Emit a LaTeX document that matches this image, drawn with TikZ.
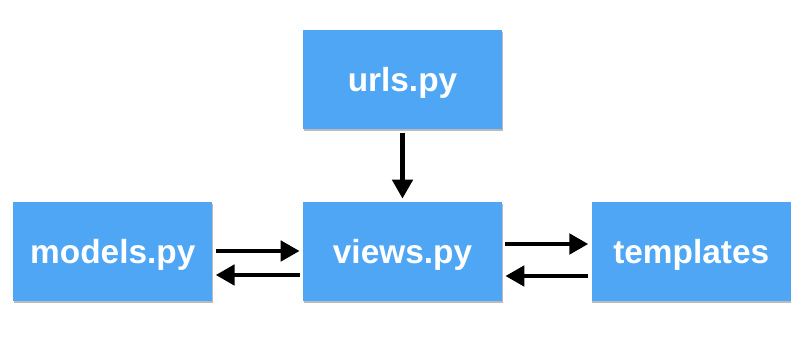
\documentclass[tikz,border=0pt]{standalone}
\usepackage{fontspec}
\setmainfont{Liberation Sans}
\usepackage{tikz}
\usetikzlibrary{positioning,arrows.meta,shadows}
\definecolor{boxblue}{HTML}{4EA6F5}

\begin{document}
\begin{tikzpicture}[
  font=\fontsize{19}{19}\selectfont\bfseries,
  file/.style={draw=none,fill=boxblue,text=white,minimum width=3.98cm,minimum height=1.98cm,
    text height=13.6pt,text depth=0pt,
    drop shadow={shadow xshift=0.4pt,shadow yshift=-1.1pt,opacity=0.45,fill=black!60}},
  flow/.style={line width=2.8pt,-{Triangle[length=0.38cm,width=0.4cm]},shorten <=0.06cm,shorten >=0.06cm},
]
\useasboundingbox (0,0) rectangle (16.1,6.78);

\node[file] (views) at (8.05,1.75) {views.py};
\node[file,above=1.44cm of views] (urls) {urls.py};
\node[file,left=1.8cm of views] (models) {models.py};
\node[file,right=1.78cm of views] (templates) {templates};

% request comes in through the url conf
\draw[flow] (urls.south) -- (views.north);
% data back and forth
\draw[flow] ([yshift=0.01cm]models.east) -- ([yshift=0.01cm]views.west);
\draw[flow] ([yshift=-0.47cm]views.west) -- ([yshift=-0.47cm]models.east);
\draw[flow] ([yshift=0.15cm]views.east) -- ([yshift=0.15cm]templates.west);
\draw[flow] ([yshift=-0.49cm]templates.west) -- ([yshift=-0.49cm]views.east);
\end{tikzpicture}
\end{document}
